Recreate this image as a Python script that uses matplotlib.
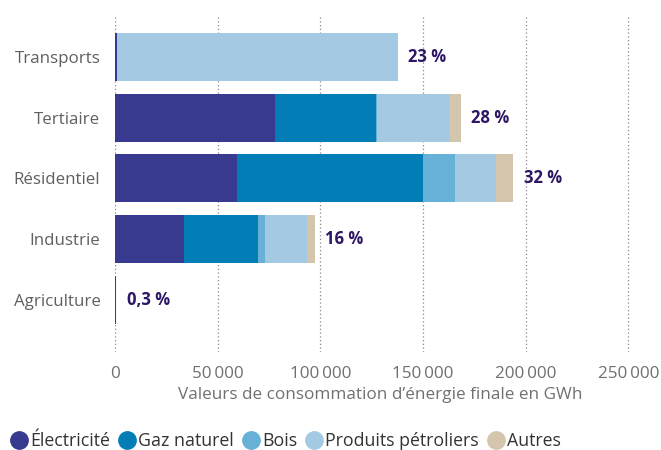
import matplotlib
matplotlib.use("Agg")
import matplotlib.pyplot as plt
from matplotlib.lines import Line2D
import numpy as np

categories = ["Transports", "Tertiaire", "Résidentiel", "Industrie", "Agriculture"]
series_names = ["Électricité", "Gaz naturel", "Bois", "Produits pétroliers", "Autres"]
electricite = [1200, 78000, 59500, 33600, 700]
gaz = [0, 49200, 90600, 36100, 0]
bois = [0, 500, 15600, 3400, 0]
petrole = [136500, 35500, 20000, 20500, 0]
autres = [0, 5400, 8300, 3900, 0]
pct_labels = ["23 %", "28 %", "32 %", "16 %", "0,3 %"]
xticks = [0, 50000, 100000, 150000, 200000, 250000]
xtick_labels = ["0", "50\u2009000", "100\u2009000", "150\u2009000", "200\u2009000", "250\u2009000"]

colors = ["#373a8e", "#027db6", "#67b0d6", "#a3cae2", "#d3c6ad"]

plt.rcParams['font.family'] = ['Open Sans', 'DejaVu Sans']

fig = plt.figure(figsize=(6.61, 4.5), dpi=100)
ax = fig.add_axes([115/661, 1-352/450, 544/661, (352-15)/450])

y = np.arange(len(categories))
data = [electricite, gaz, bois, petrole, autres]
left = np.zeros(len(categories))
for vals, c, name in zip(data, colors, series_names):
    ax.barh(y, vals, left=left, color=c, height=0.79, label=name, zorder=3)
    left = left + np.array(vals)

for yi, tot, lab in zip(y, left, pct_labels):
    ax.text(tot + 5000, yi, lab, va='center', ha='left', fontsize=12,
            fontweight='bold', color='#2d1664')

ax.set_xlim(0, 265000)
ax.set_ylim(4.86, -0.69)
ax.set_xticks(xticks)
ax.set_xticklabels(xtick_labels, fontsize=12.3, color='#707070')
ax.set_yticks(y)
ax.set_yticklabels(categories, fontsize=12.2, color='#606060')
ax.tick_params(axis='both', length=0)
ax.tick_params(axis='y', pad=10.5)
ax.tick_params(axis='x', pad=10)
for s in ax.spines.values():
    s.set_visible(False)
ax.grid(axis='x', linestyle=(0, (1, 2)), color='#888888', linewidth=0.9, zorder=0)
ax.set_xlabel("Valeurs de consommation d\u2019énergie finale en GWh", fontsize=12.3,
              color='#707070', labelpad=1)
ax.xaxis.set_label_coords(0.487, -0.105)

handles = [Line2D([0], [0], marker='o', linestyle='none', markersize=12.5,
                  markerfacecolor=c, markeredgecolor=c) for c in colors]
fig.legend(handles, series_names, loc='lower left', bbox_to_anchor=(-0.009, -0.035),
           ncol=5, frameon=False, prop={'size': 12.8},
           handletextpad=0.13, columnspacing=0.45, handlelength=1.0,
           labelcolor='#333333')

fig.savefig("out.png", dpi=100)
